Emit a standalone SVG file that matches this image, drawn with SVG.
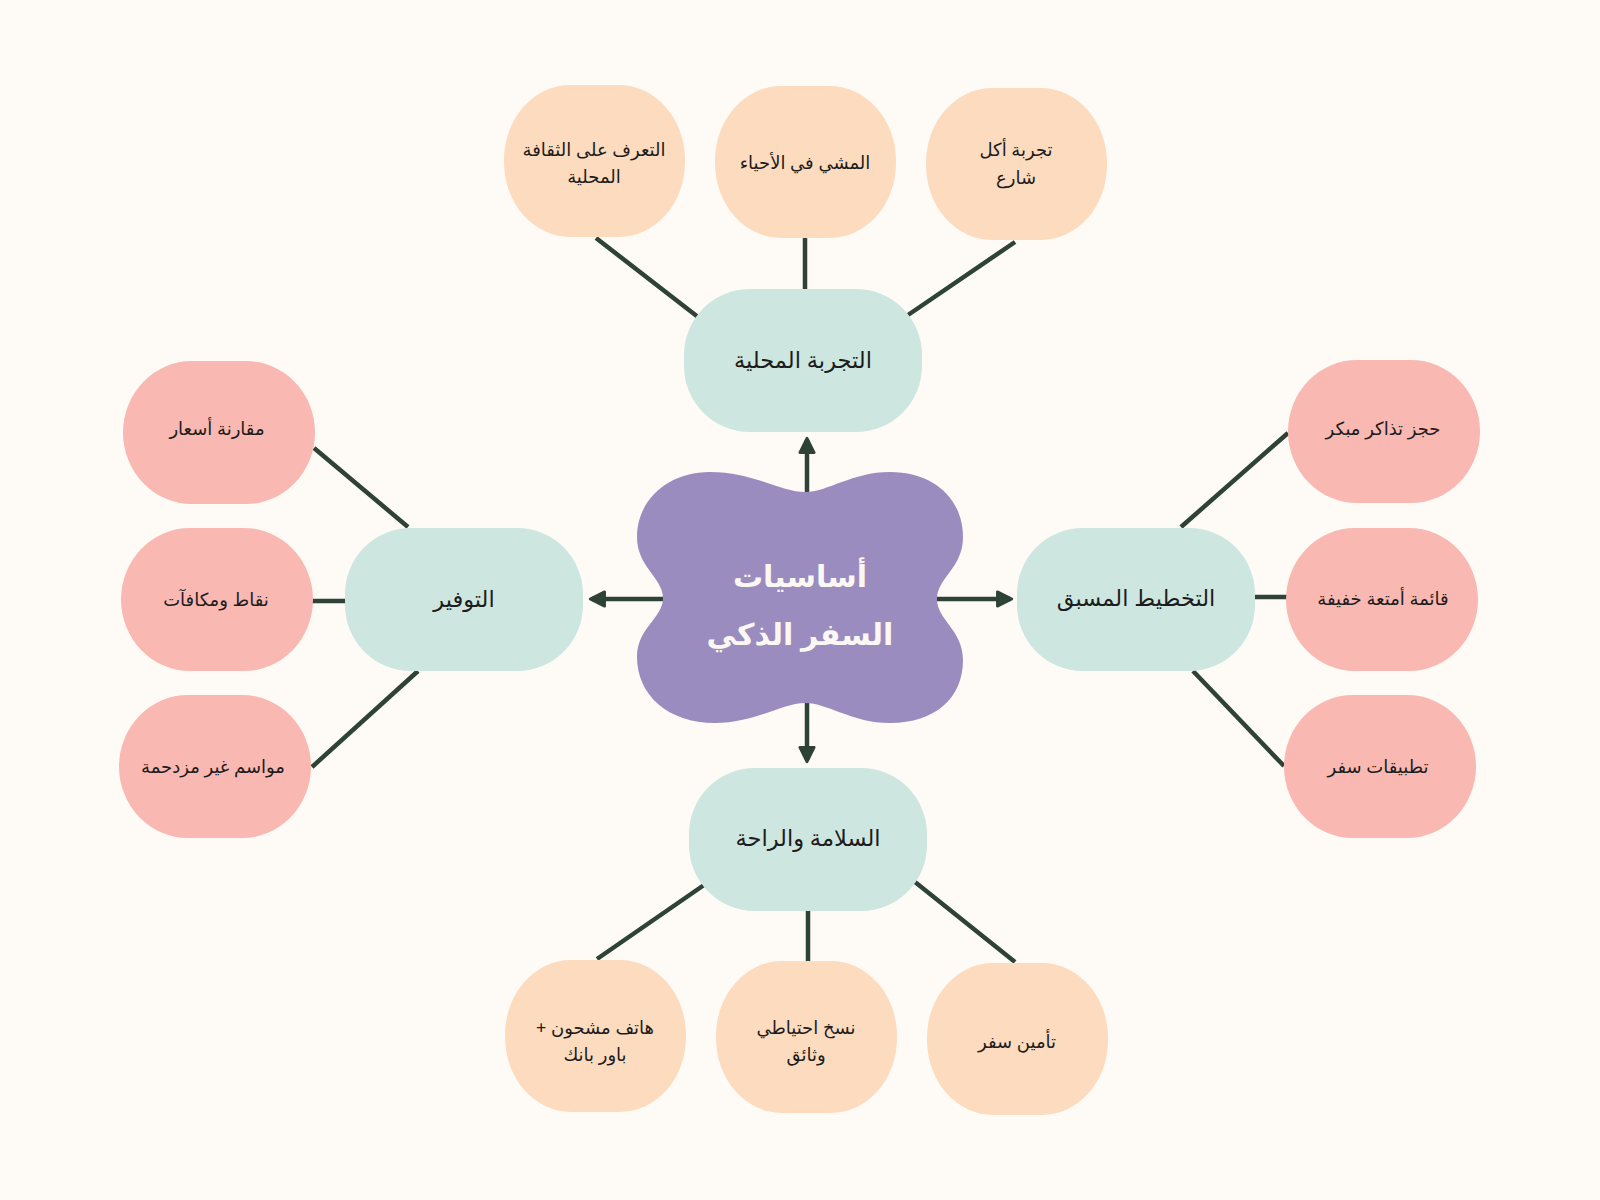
<svg xmlns="http://www.w3.org/2000/svg" width="1600" height="1200" viewBox="0 0 1600 1200">
<style>
.bg{fill:#FEFBF6}
.teal{fill:#CEE6E0}
.peach{fill:#FDDBBE}
.pink{fill:#F9B8B1}
.cloud{fill:#9A8CBE}
.ln{stroke:#2E4236;stroke-width:4.5;fill:none;stroke-linecap:butt}
text{font-family:"Noto Sans","DejaVu Sans",sans-serif;fill:#1C1C1C;text-anchor:middle;direction:rtl}
.t1{font-size:22.5px;font-weight:500}
.t2{font-size:18px}
.tc{font-size:30px;font-weight:bold;fill:#FBF8F4}
</style>
<defs>
<marker id="ah" viewBox="0 0 10 10" refX="8" refY="5" markerWidth="4" markerHeight="4" orient="auto" markerUnits="strokeWidth">
<path d="M1,1 L9,5 L1,9 Z" fill="#2E4236" stroke="#2E4236" stroke-width="1.5" stroke-linejoin="round"/>
</marker>
</defs>
<rect class="bg" x="0" y="0" width="1600" height="1200"/>

<g id="connectors">
<line class="ln" x1="807" y1="493" x2="807" y2="440" marker-end="url(#ah)"/>
<line class="ln" x1="664" y1="599" x2="592" y2="599" marker-end="url(#ah)"/>
<line class="ln" x1="936" y1="599" x2="1010" y2="599" marker-end="url(#ah)"/>
<line class="ln" x1="807" y1="703" x2="807" y2="760" marker-end="url(#ah)"/>
<line class="ln" x1="596" y1="238" x2="698" y2="317"/>
<line class="ln" x1="805" y1="238" x2="805" y2="289"/>
<line class="ln" x1="1015" y1="242" x2="908" y2="315"/>
<line class="ln" x1="314" y1="448" x2="408" y2="527"/>
<line class="ln" x1="312" y1="601" x2="346" y2="601"/>
<line class="ln" x1="418" y1="671" x2="312" y2="767"/>
<line class="ln" x1="1181" y1="527" x2="1288" y2="433"/>
<line class="ln" x1="1254" y1="597" x2="1288" y2="597"/>
<line class="ln" x1="1193" y1="671" x2="1284" y2="766"/>
<line class="ln" x1="704" y1="885" x2="597" y2="959"/>
<line class="ln" x1="808" y1="910" x2="808" y2="962"/>
<line class="ln" x1="915" y1="882" x2="1015" y2="962"/>
</g>

<g id="center">
<path class="cloud" d="M805 492 C828 492 852 472 890 472 C935 472 963 500 963 537 C963 568 937 578 937 599 C937 620 963 630 963 660 C963 698 935 723 890 723 C852 723 828 703 805 703 C782 703 755 723 715 723 C668 723 637 695 637 657 C637 628 663 618 663 598 C663 578 637 567 637 537 C637 500 668 472 710 472 C752 472 782 492 805 492 Z"/>
<text class="tc" x="800" y="587">أساسيات</text>
<text class="tc" x="800" y="645">السفر الذكي</text>
</g>

<g id="local">
<rect class="teal" x="684" y="289" width="238" height="143" rx="66"/>
<text class="t1" x="803" y="368">التجربة المحلية</text>
</g>
<g id="saving">
<rect class="teal" x="345" y="528" width="238" height="143" rx="66"/>
<text class="t1" x="464" y="607">التوفير</text>
</g>
<g id="planning">
<rect class="teal" x="1017" y="528" width="238" height="143" rx="66"/>
<text class="t1" x="1136" y="606">التخطيط المسبق</text>
</g>
<g id="safety">
<rect class="teal" x="689" y="768" width="238" height="143" rx="66"/>
<text class="t1" x="808" y="846">السلامة والراحة</text>
</g>

<g id="culture">
<rect class="peach" x="504" y="85" width="181" height="152" rx="66" ry="75"/>
<text class="t2" x="594" y="156">التعرف على الثقافة</text>
<text class="t2" x="594" y="183">المحلية</text>
</g>
<g id="walking">
<rect class="peach" x="715" y="86" width="181" height="152" rx="66" ry="75"/>
<text class="t2" x="805" y="169">المشي في الأحياء</text>
</g>
<g id="streetfood">
<rect class="peach" x="926" y="88" width="181" height="152" rx="66" ry="75"/>
<text class="t2" x="1016" y="156">تجربة أكل</text>
<text class="t2" x="1016" y="184">شارع</text>
</g>

<g id="compare">
<rect class="pink" x="123" y="361" width="192" height="143" rx="69" ry="71.5"/>
<text class="t2" x="217" y="435">مقارنة أسعار</text>
</g>
<g id="points">
<rect class="pink" x="121" y="528" width="192" height="143" rx="69" ry="71.5"/>
<text class="t2" x="216" y="606">نقاط ومكافآت</text>
</g>
<g id="seasons">
<rect class="pink" x="119" y="695" width="192" height="143" rx="69" ry="71.5"/>
<text class="t2" x="213" y="773">مواسم غير مزدحمة</text>
</g>

<g id="tickets">
<rect class="pink" x="1288" y="360" width="192" height="143" rx="69" ry="71.5"/>
<text class="t2" x="1383" y="435">حجز تذاكر مبكر</text>
</g>
<g id="luggage">
<rect class="pink" x="1286" y="528" width="192" height="143" rx="69" ry="71.5"/>
<text class="t2" x="1383" y="605">قائمة أمتعة خفيفة</text>
</g>
<g id="apps">
<rect class="pink" x="1284" y="695" width="192" height="143" rx="69" ry="71.5"/>
<text class="t2" x="1378" y="773">تطبيقات سفر</text>
</g>

<g id="phone">
<rect class="peach" x="505" y="960" width="181" height="152" rx="66" ry="75"/>
<text class="t2" x="595" y="1034">هاتف مشحون +</text>
<text class="t2" x="595" y="1061">باور بانك</text>
</g>
<g id="backup">
<rect class="peach" x="716" y="961" width="181" height="152" rx="66" ry="75"/>
<text class="t2" x="806" y="1034">نسخ احتياطي</text>
<text class="t2" x="806" y="1061">وثائق</text>
</g>
<g id="insurance">
<rect class="peach" x="927" y="963" width="181" height="152" rx="66" ry="75"/>
<text class="t2" x="1017" y="1048">تأمين سفر</text>
</g>
</svg>
